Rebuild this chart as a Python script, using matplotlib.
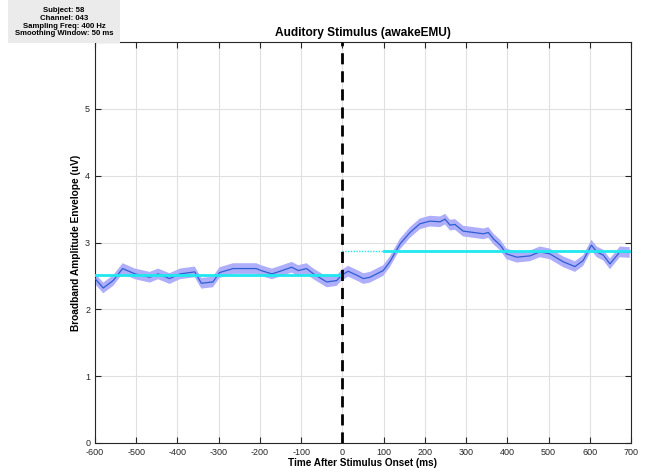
import matplotlib
matplotlib.use("Agg")
import matplotlib.pyplot as plt
from matplotlib.patches import Rectangle
import numpy as np

plt.rcParams['font.family'] = ['Liberation Sans', 'DejaVu Sans']
plt.rcParams['axes.unicode_minus'] = False

time_ms = [-600, -580, -556, -533, -503, -467, -447, -419, -394, -358, -342, -314,
           -298, -265, -238, -209, -197, -171, -151, -123, -107, -87, -70, -38, -14,
           -2, 14, 35, 51, 67, 99, 115, 140, 164, 188, 212, 237, 249, 261, 273, 293,
           318, 342, 354, 367, 383, 398, 423, 455, 479, 503, 536, 564, 584, 604, 617,
           633, 649, 673, 697]
mean_uv = [2.46, 2.32, 2.43, 2.61, 2.53, 2.48, 2.53, 2.46, 2.53, 2.56, 2.39, 2.41,
           2.55, 2.61, 2.61, 2.61, 2.58, 2.53, 2.57, 2.63, 2.58, 2.61, 2.53, 2.41, 2.43,
           2.51, 2.57, 2.51, 2.46, 2.48, 2.58, 2.71, 2.98, 3.15, 3.28, 3.32, 3.31, 3.35,
           3.26, 3.27, 3.17, 3.15, 3.13, 3.15, 3.05, 2.96, 2.83, 2.78, 2.80, 2.86, 2.83,
           2.71, 2.64, 2.73, 2.96, 2.86, 2.81, 2.68, 2.86, 2.85]
sem_uv = 0.08
baseline_pre = 2.51
baseline_post = 2.88
xticks = list(range(-600, 701, 100))
yticks = [0, 1, 2, 3, 4, 5]
info_lines = ['Subject: 58', 'Channel: 043', 'Sampling Freq: 400 Hz', 'Smoothing Window: 50 ms']

W, H = 645, 472
fig = plt.figure(figsize=(W/100, H/100), dpi=100)
ax = fig.add_axes([95/W, 1-443/H, 536/W, 401/H])

t = np.array(time_ms)
m = np.array(mean_uv)
ax.fill_between(t, m - sem_uv, m + sem_uv, color='#aeaefa', edgecolor='none',
                linewidth=0, zorder=2)
ax.plot(t, m, color='#2d5fd2', linewidth=0.9, zorder=3)

ax.plot([-600, 0], [baseline_pre, baseline_pre], color='#1fe8f0', linewidth=2.0, zorder=4)
ax.plot([0, 100], [baseline_post, baseline_post], color='#1fe8f0', linewidth=1.0,
        linestyle=(0, (1, 1)), zorder=4)
ax.plot([100, 700], [baseline_post, baseline_post], color='#1fe8f0', linewidth=2.0, zorder=4)

ax.axvline(0, color='black', linewidth=2.0, linestyle=(0, (4, 2.5)), zorder=5)

ax.set_xlim(-600, 700)
ax.set_ylim(0, 6)
ax.set_xticks(xticks)
ax.set_yticks(yticks)
ax.grid(True, color='#e0e0e0', linewidth=0.8)
ax.set_axisbelow(True)
ax.tick_params(direction='in', length=4, labelsize=6.5, colors='#262626',
               top=True, right=True)
for s in ax.spines.values():
    s.set_color('#262626')
    s.set_linewidth(0.8)

ax.set_title('Auditory Stimulus (awakeEMU)', fontsize=8.6, fontweight='bold', pad=4)
ax.set_xlabel('Time After Stimulus Onset (ms)', fontsize=7.2, fontweight='bold', labelpad=1)
ax.set_ylabel('Broadband Amplitude Envelope (uV)', fontsize=7.3, fontweight='bold', labelpad=3)

fig.patches.append(Rectangle((8/W, 1-43/H), 112/W, 43/H, transform=fig.transFigure,
                             facecolor='#ebebeb', edgecolor='none', zorder=9))
for i, line in enumerate(info_lines):
    fig.text(64/W, 1-(10.7 + 7.7*i)/H, line, ha='center', va='center',
             fontsize=5.6, fontweight='bold', zorder=10)

fig.savefig('out.png', dpi=100)
